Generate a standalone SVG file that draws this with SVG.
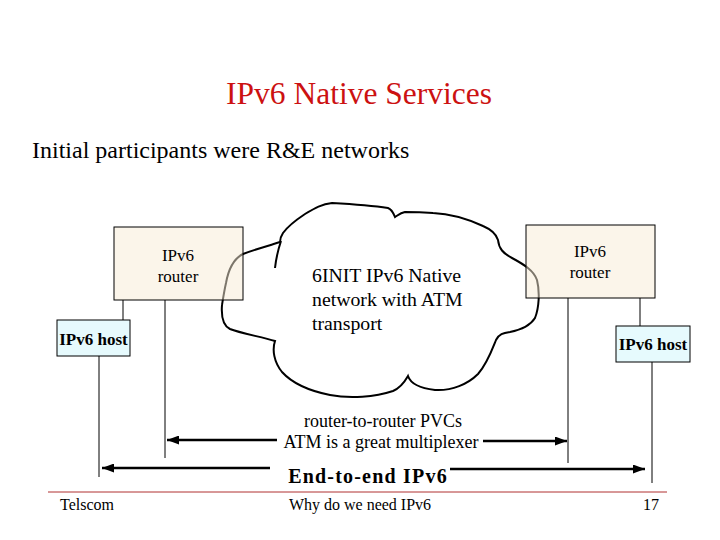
<svg xmlns="http://www.w3.org/2000/svg" width="720" height="540" viewBox="0 0 720 540">
<style>
text{font-family:"Liberation Serif","Times New Roman",serif;fill:#000}
.title{font-size:31.5px;fill:#cc1111}
.sub{font-size:24px}
.box{font-size:17px}
.host{font-size:17px;font-weight:bold}
.cloudtxt{font-size:19.8px}
.lbl{font-size:18px}
.bold{font-size:20px;font-weight:bold;letter-spacing:1.2px}
.foot{font-size:16px}
.conn{stroke:#000;stroke-width:1;fill:none}
.arr{stroke:#000;stroke-width:2.5;fill:none;marker-end:url(#ah)}
.router{fill:#f7ebd5;fill-opacity:0.5;stroke:#000;stroke-width:1}
.hostbox{fill:#e6fafd;stroke:#000;stroke-width:1}
</style>
<defs>
<marker id="ah" markerUnits="userSpaceOnUse" markerWidth="12" markerHeight="9" viewBox="0 0 12 9" refX="12" refY="4.5" orient="auto">
<path d="M0,0 L12,4.5 L0,9 z" fill="#000"/>
</marker>
</defs>
<rect width="720" height="540" fill="#fff"/>
<text class="title" x="359" y="104" text-anchor="middle">IPv6 Native Services</text>
<text class="sub" x="32" y="158">Initial participants were R&amp;E networks</text>

<g id="cloud">
<path d="M222,305 C221,318 224,326 230,329 C240,333 262,337 275,341 C272,350 274,362 282,372 C292,383 310,391 330,395 C350,399 375,397 393,391 C400,388 404,383 408,376 C410,382 418,388 435,390 C452,391 468,384 478,374 C487,364 492,350 496,340 C499,334 503,333 510,332 C520,330 530,326 535,318 C539,308 540,292 537,280 C534,271 525,265 512,258 C503,253 499,249 498,240 C496,233 490,229 483,226 C470,220 455,214 433,213 C420,212 410,212 405,212 C400,213 397,216 395,217 C393,212 391,209 388,208 C375,206 350,204 332,203 C322,204 315,208 305,214 C296,220 288,226 283,233 C281,236 280,240 280,242 C268,246 256,249 243,254 C235,258 229,266 226,283 C224,292 223,299 222,305" fill="none" stroke="#000" stroke-width="2"/>
<path d="M281,241 C278,250 276,259 275,268" fill="none" stroke="#000" stroke-width="2"/>
<text class="cloudtxt" x="312" y="282">6INIT IPv6 Native</text>
<text class="cloudtxt" x="312" y="306">network with ATM</text>
<text class="cloudtxt" x="312" y="330">transport</text>
</g>

<g id="router-left">
<rect class="router" x="114" y="227" width="129" height="73"/>
<text class="box" x="178" y="261" text-anchor="middle">IPv6</text>
<text class="box" x="178" y="282" text-anchor="middle">router</text>
</g>

<g id="router-right">
<rect class="router" x="526" y="225" width="129" height="73"/>
<text class="box" x="590" y="257" text-anchor="middle">IPv6</text>
<text class="box" x="590" y="278" text-anchor="middle">router</text>
</g>

<g id="host-left">
<rect class="hostbox" x="57" y="320" width="73" height="36"/>
<text class="host" x="93.5" y="345" text-anchor="middle">IPv6 host</text>
</g>

<g id="host-right">
<rect class="hostbox" x="616" y="326" width="74" height="36"/>
<text class="host" x="653" y="350" text-anchor="middle">IPv6 host</text>
</g>

<g id="connectors">
<line class="conn" x1="123" y1="300" x2="123" y2="320"/>
<line class="conn" x1="165" y1="300" x2="165" y2="458"/>
<line class="conn" x1="99" y1="356" x2="99" y2="477"/>
<line class="conn" x1="568" y1="298" x2="568" y2="463"/>
<line class="conn" x1="640" y1="298" x2="640" y2="326"/>
<line class="conn" x1="652" y1="362" x2="652" y2="483"/>
<line class="arr" x1="277" y1="440" x2="167" y2="440"/>
<line class="arr" x1="483" y1="441" x2="567" y2="441"/>
<line class="arr" x1="270" y1="468" x2="102" y2="468"/>
<line class="arr" x1="450" y1="469" x2="645" y2="469"/>
<text class="lbl" x="383" y="427" text-anchor="middle">router-to-router PVCs</text>
<text class="lbl" x="381" y="448" text-anchor="middle">ATM is a great multiplexer</text>
<text class="bold" x="368" y="483" text-anchor="middle">End-to-end IPv6</text>
</g>

<line x1="48" y1="492" x2="667" y2="492" stroke="#b03030" stroke-width="1"/>
<text class="foot" x="60" y="510">Telscom</text>
<text class="foot" x="360" y="510" text-anchor="middle">Why do we need IPv6</text>
<text class="foot" x="651" y="510" text-anchor="middle">17</text>
</svg>
